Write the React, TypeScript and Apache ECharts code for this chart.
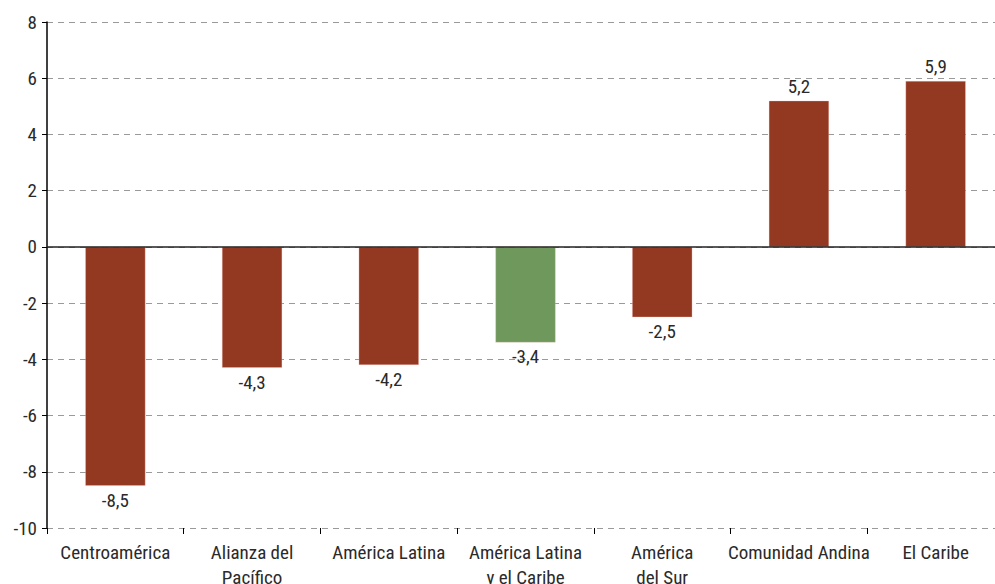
import React, { useEffect, useRef } from "react";
import * as echarts from "echarts";

const categories = [
  "Centroamérica",
  "Alianza del\nPacífico",
  "América Latina",
  "América Latina\ny el Caribe",
  "América\ndel Sur",
  "Comunidad Andina",
  "El Caribe",
];
const values = [-8.5, -4.3, -4.2, -3.4, -2.5, 5.2, 5.9];
const highlightIndex = 3;

const RED = "#933922";
const GREEN = "#6E985C";
const FONT = "'Liberation Sans Narrow', 'Roboto Condensed', Roboto, sans-serif";
const TEXT = "#2a2a2a";

export default function App() {
  const ref = useRef<HTMLDivElement>(null);
  useEffect(() => {
    if (!ref.current) return;
    const chart = echarts.init(ref.current, undefined, { renderer: "svg" });
    chart.setOption({
      animation: false,
      grid: { left: 47, top: 22, width: 957, bottom: 56, containLabel: false, outerBoundsMode: "none" },
      xAxis: {
        type: "category",
        data: categories,
        position: "bottom",
        axisLine: { show: false, onZero: false },
        axisTick: { show: true, alignWithLabel: false, length: 6, lineStyle: { color: "#000" } },
        axisLabel: { color: TEXT, fontSize: 19, fontFamily: FONT, lineHeight: 25, margin: 12, interval: 0 },
      },
      yAxis: {
        type: "value",
        min: -10,
        max: 8,
        interval: 2,
        axisLine: { show: true, lineStyle: { color: "#000", width: 1.5 } },
        axisTick: { show: true, length: 5, lineStyle: { color: "#000" } },
        axisLabel: { color: TEXT, fontSize: 19, fontFamily: FONT, margin: 10 },
        splitLine: { show: true, lineStyle: { color: "#9a9a9a", type: [6, 5], width: 1 } },
      },
      series: [
        {
          type: "bar",
          data: values.map((v, i) => ({
            value: v,
            itemStyle: { color: i === highlightIndex ? GREEN : RED },
            label: { position: v >= 0 ? "top" : "bottom" },
          })),
          barWidth: "44%",
          itemStyle: { borderColor: "rgba(255,200,190,0.6)", borderWidth: 0.5 },
          label: {
            show: true,
            color: TEXT,
            fontSize: 19,
            fontFamily: FONT,
            distance: 5,
            formatter: (p: any) => String(p.value).replace(".", ","),
          },
          markLine: {
            silent: true,
            symbol: "none",
            label: { show: false },
            lineStyle: { color: "#222", type: "solid", width: 1.5 },
            data: [{ yAxis: 0 }],
          },
        },
      ],
    });
    return () => chart.dispose();
  }, []);
  return <div ref={ref} style={{ width: 995, height: 584, position: "absolute", left: 0, top: 0 }} />;
}
